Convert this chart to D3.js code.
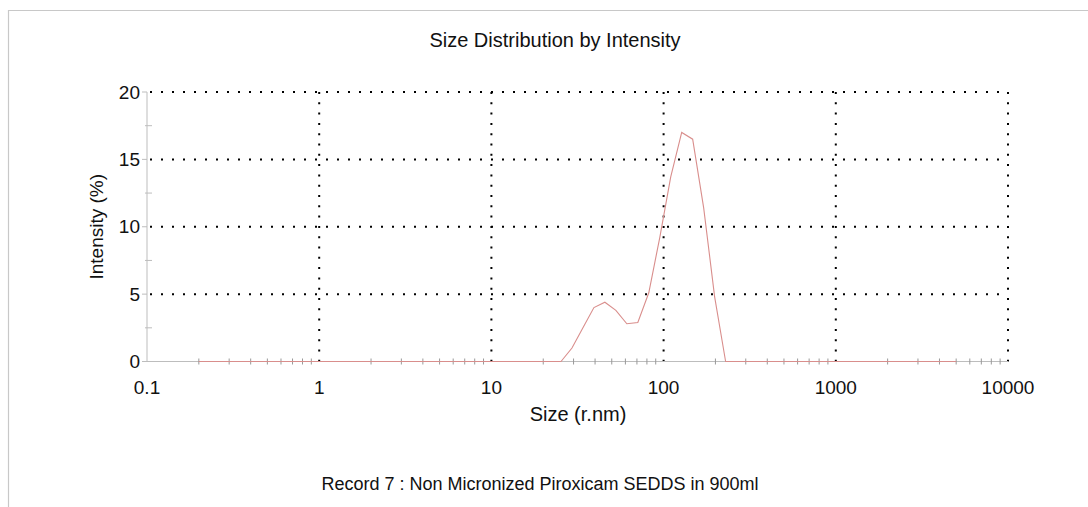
<!DOCTYPE html>
<html lang="en">
<head>
<meta charset="UTF-8">
<title>Size Distribution by Intensity</title>
<script src="https://d3js.org/d3.v7.min.js"></script>
<style>
    body { margin: 0; background: #fff; }
    svg { display: block; }
    text {
        font-family: "Liberation Sans", Arial, sans-serif;
        fill: #111;
    }
</style>
</head>
<body>
<svg id="chart" width="1088" height="507"></svg>
<script>
    // radius size classes (r.nm) and intensity (%)
    const sizes = [0.2, 0.2316, 0.2683, 0.3107, 0.3598, 0.4166, 0.4824, 0.5586, 0.6469, 0.7491,
        0.8675, 1.005, 1.164, 1.348, 1.561, 1.807, 2.093, 2.424, 2.807, 3.250,
        3.764, 4.359, 5.048, 5.846, 6.770, 7.840, 9.079, 10.51, 12.18, 14.10,
        16.33, 18.91, 21.90, 25.36, 29.37, 34.01, 39.39, 45.61, 52.82, 61.17,
        70.84, 82.03, 95.00, 110.0, 127.4, 147.5, 170.9, 197.9, 229.2, 265.4,
        307.3, 355.9, 412.2, 477.3, 552.8, 640.1, 741.3, 858.5, 994.1, 1151,
        1333, 1544, 1788, 2070, 2398, 2777, 3215, 3724, 4312, 5000];
    const intensity = [0, 0, 0, 0, 0, 0, 0, 0, 0, 0,
        0, 0, 0, 0, 0, 0, 0, 0, 0, 0,
        0, 0, 0, 0, 0, 0, 0, 0, 0, 0,
        0, 0, 0, 0, 1.0, 2.5, 4.0, 4.4, 3.8, 2.8,
        2.9, 5.1, 9.2, 13.7, 17.0, 16.5, 11.4, 4.8, 0, 0,
        0, 0, 0, 0, 0, 0, 0, 0, 0, 0,
        0, 0, 0, 0, 0, 0, 0, 0, 0, 0];
    const xTicks = [0.1, 1, 10, 100, 1000, 10000];
    const yTicks = [0, 5, 10, 15, 20];

    const title = "Size Distribution by Intensity";
    const xLabel = "Size (r.nm)";
    const yLabel = "Intensity (%)";
    const footer = "Record 7 : Non Micronized Piroxicam SEDDS in 900ml";

    const svg = d3.select("#chart");
    const axisGrey = "#bdbdbd";

    const x = d3.scaleLog().domain([0.1, 10000]).range([147, 1008]);
    const y = d3.scaleLinear().domain([0, 20]).range([361.5, 92]);

    // outer frame (top and left edges visible)
    svg.append("path")
        .attr("d", "M8.5,507V10.5H1088")
        .attr("fill", "none")
        .attr("stroke", "#c8c8c8")
        .attr("stroke-width", 1.2);

    // dotted grid
    svg.append("g").selectAll("line")
        .data(yTicks.filter(d => d > 0))
        .join("line")
        .attr("x1", x(0.1) + 3).attr("x2", x(10000))
        .attr("y1", d => y(d)).attr("y2", d => y(d))
        .attr("stroke", "#000").attr("stroke-width", 2)
        .attr("stroke-dasharray", "2 9");

    svg.append("g").selectAll("line")
        .data(xTicks.filter(d => d > 0.1))
        .join("line")
        .attr("x1", d => x(d)).attr("x2", d => x(d))
        .attr("y1", y(20)).attr("y2", y(0))
        .attr("stroke", "#000").attr("stroke-width", 2)
        .attr("stroke-dasharray", "2 8.3");

    // x axis: line, minor log ticks, labels
    const minor = [];
    for (let dec = 0.1; dec < 10000; dec *= 10) {
        for (let m = 2; m <= 9; m++) minor.push(dec * m);
    }
    const xAxis = svg.append("g");
    xAxis.append("line")
        .attr("x1", x(0.1)).attr("x2", x(10000))
        .attr("y1", y(0)).attr("y2", y(0))
        .attr("stroke", axisGrey);
    xAxis.selectAll("line.minor")
        .data(minor)
        .join("line")
        .attr("class", "minor")
        .attr("x1", d => x(d)).attr("x2", d => x(d))
        .attr("y1", y(0) - 3).attr("y2", y(0) + 3)
        .attr("stroke", "#999");
    xAxis.selectAll("text")
        .data(xTicks)
        .join("text")
        .attr("x", d => x(d))
        .attr("y", y(0) + 32)
        .attr("text-anchor", "middle")
        .style("font-size", "19px")
        .text(d => d3.format("~g")(d));

    // y axis
    const yAxis = svg.append("g");
    yAxis.append("line")
        .attr("x1", x(0.1)).attr("x2", x(0.1))
        .attr("y1", y(20)).attr("y2", y(0))
        .attr("stroke", axisGrey);
    yAxis.selectAll("line.major")
        .data(yTicks)
        .join("line")
        .attr("class", "major")
        .attr("x1", x(0.1) - 5).attr("x2", x(0.1))
        .attr("y1", d => y(d)).attr("y2", d => y(d))
        .attr("stroke", axisGrey);
    yAxis.selectAll("line.minor")
        .data([2.5, 7.5, 12.5, 17.5])
        .join("line")
        .attr("class", "minor")
        .attr("x1", x(0.1) - 2).attr("x2", x(0.1) + 5)
        .attr("y1", d => y(d)).attr("y2", d => y(d))
        .attr("stroke", axisGrey);
    yAxis.selectAll("text")
        .data(yTicks)
        .join("text")
        .attr("x", x(0.1) - 7)
        .attr("y", d => y(d))
        .attr("dy", "0.35em")
        .attr("text-anchor", "end")
        .style("font-size", "19px")
        .text(d => d);

    // distribution curve
    const line = d3.line()
        .x((d, i) => x(sizes[i]))
        .y(d => y(d));
    svg.append("path")
        .datum(intensity)
        .attr("d", line)
        .attr("fill", "none")
        .attr("stroke", "#d98e8c")
        .attr("stroke-width", 1.1);

    // labels
    svg.append("text")
        .attr("x", 555).attr("y", 47)
        .attr("text-anchor", "middle")
        .style("font-size", "20px")
        .text(title);
    svg.append("text")
        .attr("x", 578).attr("y", 421)
        .attr("text-anchor", "middle")
        .style("font-size", "20px")
        .text(xLabel);
    svg.append("text")
        .attr("transform", `translate(103,${(y(0) + y(20)) / 2}) rotate(-90)`)
        .attr("text-anchor", "middle")
        .style("font-size", "19px")
        .text(yLabel);
    svg.append("text")
        .attr("x", 540).attr("y", 490)
        .attr("text-anchor", "middle")
        .style("font-size", "18px")
        .text(footer);
</script>
</body>
</html>
